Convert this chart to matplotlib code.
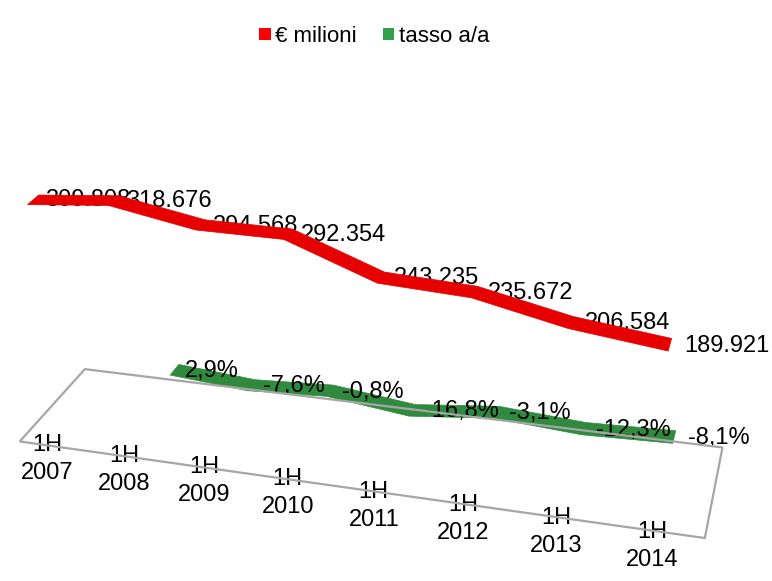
import matplotlib
matplotlib.use('Agg')
import matplotlib.pyplot as plt
from matplotlib.patches import Patch
from mpl_toolkits.mplot3d.art3d import Poly3DCollection, Line3DCollection

# dati
categories = ['1H\n2007', '1H\n2008', '1H\n2009', '1H\n2010',
              '1H\n2011', '1H\n2012', '1H\n2013', '1H\n2014']
milioni = [309.808, 318.676, 294.568, 292.354, 243.235, 235.672, 206.584, 189.921]
milioni_labels = ['309.808', '318.676', '294.568', '292.354',
                  '243.235', '235.672', '206.584', '189.921']
# tasso a/a parte dal 1H 2008
tasso = [2.9, -7.6, -0.8, -16.8, -3.1, -12.3, -8.1]
tasso_labels = ['2,9%', '-7,6%', '-0,8%', '-16,8%', '-3,1%', '-12,3%', '-8,1%']

plt.rcParams['font.family'] = ['Liberation Sans', 'DejaVu Sans']

RED = '#e60000'
GREEN = '#2f8a3e'
ZMIN, ZMAX = -50, 350


def ribbon(ax, xs, zs, y0, y1, color):
    front = [(x, y0, z) for x, z in zip(xs, zs)]
    back = [(x, y1, z) for x, z in zip(xs, zs)][::-1]
    poly = Poly3DCollection([front + back], facecolor=color, edgecolor=color,
                            linewidth=0.5)
    ax.add_collection3d(poly)


fig = plt.figure(figsize=(7.72, 5.81), dpi=100)
# assi quadrati grandi per evitare il taglio della scena
ax = fig.add_axes([-0.16, -0.366, 1.2, 1.594], projection='3d')
ax.set_proj_type('persp', focal_length=0.3)
ax.view_init(elev=29, azim=-70, roll=4)
ax.set_xlim(-0.5, 7.5)
ax.set_ylim(0, 2)
ax.set_zlim(ZMIN, ZMAX)
ax.set_box_aspect((8, 1.7, 3.35), zoom=0.84)
ax.set_axis_off()

# pavimento
fx = [-0.5, 7.5, 7.5, -0.5, -0.5]
fy = [0, 0, 2, 2, 0]
ax.add_collection3d(Line3DCollection(
    [list(zip(fx, fy, [ZMIN] * 5))], colors='#a6a6a6', linewidths=1.6))

x_m = list(range(len(milioni)))
x_t = list(range(1, len(tasso) + 1))
ribbon(ax, x_m, milioni, 0.35, 0.65, RED)
ribbon(ax, x_t, tasso, 1.35, 1.65, GREEN)

for x, z, s in zip(x_m, milioni, milioni_labels):
    ax.text(x + 0.15, 0.5, z, s, ha='left', va='center', fontsize=17)
for x, z, s in zip(x_t, tasso, tasso_labels):
    ax.text(x + 0.15, 1.5, z, s, ha='left', va='center', fontsize=17)
for x, s in enumerate(categories):
    ax.text(x, -0.3, ZMIN, s, ha='center', va='center', fontsize=17,
            linespacing=1.35)

handles = [Patch(facecolor='#ff0000', label='€ milioni'),
           Patch(facecolor='#33a04a', label='tasso a/a')]
fig.legend(handles=handles, loc='upper center', bbox_to_anchor=(0.485, 0.99),
           ncol=2, frameon=False, fontsize=16, handlelength=0.5,
           handleheight=0.5, handletextpad=0.2, columnspacing=1.2)

fig.savefig('out.png', dpi=100)
